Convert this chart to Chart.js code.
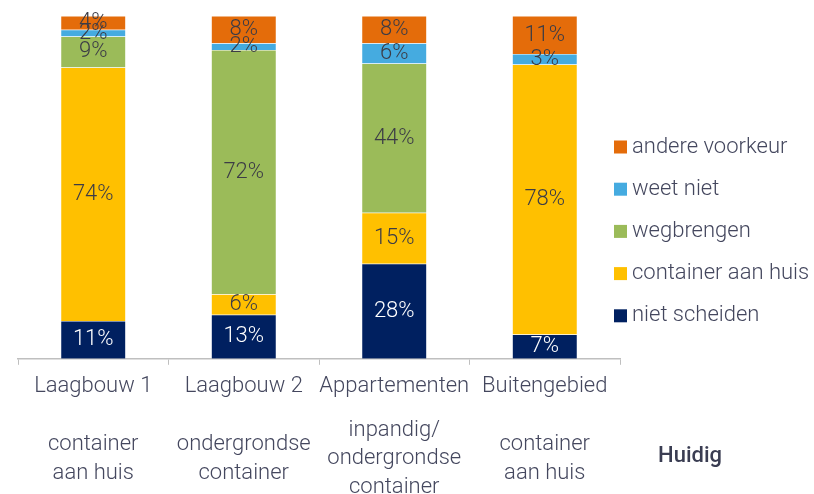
<!DOCTYPE html>
<html>
<head>
<meta charset="utf-8">
<script src="https://cdn.jsdelivr.net/npm/chart.js@4"></script>
<style>
html,body{margin:0;padding:0;background:#fff;}
</style>
</head>
<body>
<canvas id="chart" width="814" height="494"></canvas>
<script>
const categories = ["Laagbouw 1","Laagbouw 2","Appartementen","Buitengebied"];
const huidig = [["container","aan huis"],["ondergrondse","container"],["inpandig/","ondergrondse","container"],["container","aan huis"]];
const nietScheiden = [11,13,28,7];
const containerAanHuis = [74,6,15,78];
const wegbrengen = [9,72,44,0];
const weetNiet = [2,2,6,3];
const andereVoorkeur = [4,8,8,11];

const series = [
  {label:"niet scheiden", data:nietScheiden, color:"#002060", text:"#ffffff"},
  {label:"container aan huis", data:containerAanHuis, color:"#ffc000", text:"#3c3c46"},
  {label:"wegbrengen", data:wegbrengen, color:"#9bbb59", text:"#3c3c46"},
  {label:"weet niet", data:weetNiet, color:"#45abe0", text:"#3c3c46"},
  {label:"andere voorkeur", data:andereVoorkeur, color:"#e46c0a", text:"#3c3c46"}
];

// 100% gestapeld: elke kolom schalen naar totaal 100
const totals = categories.map((c,i)=>series.reduce((s,d)=>s+d.data[i],0));

const fontFamily = "Roboto, 'Noto Sans', sans-serif";
const textColor = "#44475e";

const labelPlugin = {
  id:"segmentLabels",
  afterDatasetsDraw(chart){
    const ctx = chart.ctx;
    ctx.save();
    ctx.font = `300 22px ${fontFamily}`;
    ctx.textAlign = "center";
    ctx.textBaseline = "middle";
    chart.data.datasets.forEach((ds,di)=>{
      const meta = chart.getDatasetMeta(di);
      meta.data.forEach((el,i)=>{
        const v = series[di].data[i];
        if(!v) return;
        ctx.fillStyle = series[di].text;
        ctx.fillText(`${v}%`, el.x, (el.y+el.base)/2);
      });
    });
    ctx.restore();
  }
};

const legendPlugin = {
  id:"sideLegend",
  afterDraw(chart){
    const ctx = chart.ctx;
    ctx.save();
    ctx.font = `300 22px ${fontFamily}`;
    ctx.textBaseline = "middle";
    ctx.textAlign = "left";
    const items = series.slice().reverse();
    items.forEach((s,i)=>{
      const cy = 147 + i*42.2;
      ctx.fillStyle = s.color;
      ctx.fillRect(614, cy-6.5, 13, 13);
      ctx.fillStyle = textColor;
      ctx.fillText(s.label, 632, cy);
    });
    ctx.font = `500 22px ${fontFamily}`;
    ctx.textAlign = "center";
    ctx.fillStyle = "#3a3d52";
    ctx.fillText("Huidig", 690, 456);
    ctx.restore();
  }
};

new Chart(document.getElementById("chart"),{
  type:"bar",
  data:{
    labels:categories,
    datasets:series.map(s=>({
      label:s.label,
      data:s.data.map((v,i)=>v/totals[i]*100),
      backgroundColor:s.color,
      borderColor:"rgba(255,255,255,0.5)",
      borderWidth:0.5,
      barPercentage:0.432,
      categoryPercentage:1,
      xAxisID:"x",
      yAxisID:"y"
    }))
  },
  options:{
    responsive:false,
    animation:false,
    events:[],
    layout:{padding:{top:16,left:18,right:194,bottom:-37}},
    plugins:{
      legend:{display:false},
      tooltip:{enabled:false}
    },
    scales:{
      x:{
        stacked:true,
        grid:{offset:true,drawOnChartArea:false,tickLength:6,color:"#bfbfbf"},
        border:{color:"#bfbfbf",width:1.5},
        ticks:{padding:8,color:textColor,font:{family:fontFamily,size:22,weight:300,lineHeight:1.2},maxRotation:0,autoSkip:false}
      },
      x2:{
        type:"category",
        labels:huidig,
        position:"bottom",
        offset:true,
        grid:{display:false},
        border:{display:false},
        ticks:{padding:15,crossAlign:"center",color:textColor,font:{family:fontFamily,size:22,weight:300,lineHeight:1.3},maxRotation:0,autoSkip:false}
      },
      y:{
        stacked:true,
        display:false,
        min:0,
        max:100
      }
    }
  },
  plugins:[labelPlugin,legendPlugin]
});
</script>
</body>
</html>
